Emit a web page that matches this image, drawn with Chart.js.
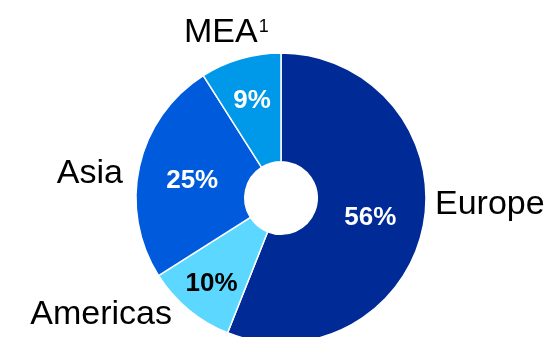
<!DOCTYPE html>
<html>
<head>
<meta charset="utf-8">
<script src="https://cdn.jsdelivr.net/npm/chart.js@4"></script>
<style>
    html, body { margin: 0; padding: 0; background: #fff; overflow: hidden; }
    #wrap { width: 550px; height: 337px; }
</style>
</head>
<body>
<div id="wrap"><canvas id="regionChart" width="550" height="337"></canvas></div>
<script>
// Sales split by region (%), clockwise from 12 o'clock
const regions = ['Europe', 'Americas', 'Asia', 'MEA'];
const shares = [56, 10, 25, 9];
const sliceColors = ['#002a96', '#5cd7ff', '#005bdc', '#0098e8'];
const valueColors = ['#ffffff', '#000000', '#ffffff', '#ffffff'];

// Label placement (layout only): percent label distance from centre,
// and region name anchor relative to the centre
const valueRadius = [91, 109, 91, 104];
const nameAnchors = [
    { dx: 154, dy: 16, align: 'left' },
    { dx: -109, dy: 126, align: 'right' },
    { dx: -158, dy: -15, align: 'right' },
    { dx: -97, dy: -156, align: 'left', sup: '1' }
];

const labelPlugin = {
    id: 'regionLabels',
    afterDatasetsDraw(chart) {
        const ctx = chart.ctx;
        const arcs = chart.getDatasetMeta(0).data;
        ctx.save();
        arcs.forEach((arc, i) => {
            const mid = (arc.startAngle + arc.endAngle) / 2;
            const x = arc.x + valueRadius[i] * Math.cos(mid);
            const y = arc.y + valueRadius[i] * Math.sin(mid);
            ctx.font = 'bold 26px "Liberation Sans", Arial, sans-serif';
            ctx.fillStyle = valueColors[i];
            ctx.textAlign = 'center';
            ctx.textBaseline = 'alphabetic';
            ctx.fillText(shares[i] + '%', x, y + 9.5);

            const a = nameAnchors[i];
            ctx.font = '34px "Liberation Sans", Arial, sans-serif';
            ctx.fillStyle = '#000000';
            ctx.textAlign = a.align;
            const nx = arc.x + a.dx;
            const ny = arc.y + a.dy;
            ctx.fillText(regions[i], nx, ny);
            if (a.sup) {
                const w = ctx.measureText(regions[i]).width;
                ctx.font = '18px "Liberation Sans", Arial, sans-serif';
                ctx.textAlign = 'left';
                ctx.fillText(a.sup, nx + w + 1, ny - 10);
            }
        });
        ctx.restore();
    }
};

const ctx = document.getElementById('regionChart').getContext('2d');
const regionChart = new Chart(ctx, {
    type: 'doughnut',
    data: {
        labels: regions,
        datasets: [{
            data: shares,
            backgroundColor: sliceColors,
            borderColor: '#ffffff',
            borderWidth: 1.5,
            hoverOffset: 0
        }]
    },
    options: {
        responsive: false,
        devicePixelRatio: 1,
        animation: false,
        radius: 145,
        cutout: '25%',
        layout: {
            padding: { left: 12, right: 0, top: 59, bottom: 0 }
        },
        plugins: {
            legend: { display: false },
            tooltip: { enabled: false }
        }
    },
    plugins: [labelPlugin]
});
</script>
</body>
</html>
